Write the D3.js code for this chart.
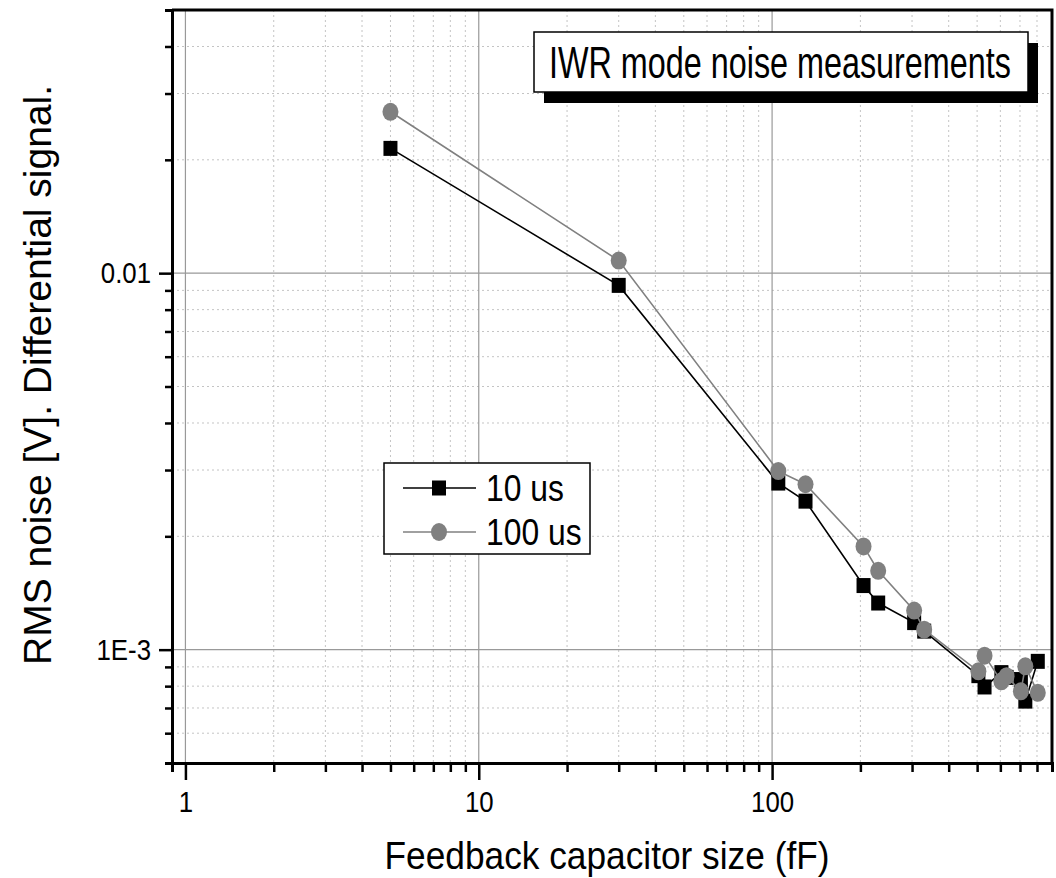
<!DOCTYPE html>
<html>
<head>
<meta charset="utf-8">
<script src="https://cdn.jsdelivr.net/npm/d3@7"></script>
<style>
  body { margin: 0; background: #fff; }
  text { font-family: "Liberation Sans", Arial, sans-serif; fill: #000; }
</style>
</head>
<body>
<div id="chart"></div>
<script>
// capacitor sizes (fF) and the two measured series (V rms)
const capSize = [5, 30, 105, 130, 205, 230, 305, 330, 505, 530, 605, 630, 705, 730, 805];
const noise10us = [0.02145, 0.00928, 0.00277, 0.00248, 0.00148, 0.00133, 0.00118, 0.00112,
                   0.000853, 0.000796, 0.000869, 0.000844, 0.000833, 0.000730, 0.000931];
const noise100us = [0.02683, 0.0108, 0.00298, 0.00275, 0.00188, 0.00162, 0.00127, 0.00113,
                    0.000876, 0.000964, 0.000824, 0.000850, 0.000775, 0.000903, 0.000768];
const seriesNames = ["10 us", "100 us"];

const xMajor = [1, 10, 100];
const xMajorLabels = ["1", "10", "100"];
const xMinor = [0.9, 2, 3, 4, 5, 6, 7, 8, 9, 20, 30, 40, 50, 60, 70, 80, 90, 200, 300, 400, 500, 600, 700, 800, 900];
const yMajor = [0.001, 0.01];
const yMajorLabels = ["1E-3", "0.01"];
const yMinor = [0.0005, 0.0006, 0.0007, 0.0008, 0.0009, 0.002, 0.003, 0.004, 0.005, 0.006, 0.007, 0.008, 0.009, 0.02, 0.03, 0.04, 0.05];

const titleText = "IWR mode noise measurements";
const xTitle = "Feedback capacitor size (fF)";
const yTitle = "RMS noise [V]. Differential signal.";

const W = 1056, H = 878;
const plotL = 172, plotR = 1052, plotT = 10, plotB = 763;
const SQUEEZE = 0.86; // the original glyphs are horizontally condensed

const svg = d3.select("#chart").append("svg")
    .attr("width", W)
    .attr("height", H);

const x = d3.scaleLog().domain([0.9, 900]).range([plotL, plotR]);
const y = d3.scaleLog().domain([0.0005, 0.05]).range([plotB, plotT]);

// grid: dotted minor, solid major
const grid = svg.append("g");
grid.selectAll(".gx-minor").data(xMinor).enter().append("line")
    .attr("x1", d => x(d)).attr("x2", d => x(d))
    .attr("y1", plotT).attr("y2", plotB)
    .attr("stroke", "#c4c4c4").attr("stroke-width", 1).attr("stroke-dasharray", "2,3");
grid.selectAll(".gy-minor").data(yMinor).enter().append("line")
    .attr("y1", d => y(d)).attr("y2", d => y(d))
    .attr("x1", plotL).attr("x2", plotR)
    .attr("stroke", "#c4c4c4").attr("stroke-width", 1).attr("stroke-dasharray", "2,3");
grid.selectAll(".gx-major").data(xMajor).enter().append("line")
    .attr("x1", d => x(d)).attr("x2", d => x(d))
    .attr("y1", plotT).attr("y2", plotB)
    .attr("stroke", "#999").attr("stroke-width", 1.2);
grid.selectAll(".gy-major").data(yMajor).enter().append("line")
    .attr("y1", d => y(d)).attr("y2", d => y(d))
    .attr("x1", plotL).attr("x2", plotR)
    .attr("stroke", "#999").attr("stroke-width", 1.2);

// frame top + right
svg.append("path")
    .attr("d", `M${plotL},${plotT}H${plotR}V${plotB}`)
    .attr("fill", "none").attr("stroke", "#000").attr("stroke-width", 3);

// axes (major with labels, minor without)
function styleAxis(g) {
    g.attr("font-size", null).attr("font-family", null);
    g.select(".domain").attr("stroke", "#000").attr("stroke-width", 3);
    g.selectAll(".tick line").attr("stroke", "#000").attr("stroke-width", 2.5);
    g.selectAll(".tick text").style("font-size", "30px").attr("fill", "#000");
}

svg.append("g").attr("transform", `translate(0,${plotB})`)
    .call(d3.axisBottom(x).tickValues(xMinor).tickSize(9).tickFormat(""))
    .call(styleAxis);
svg.append("g").attr("transform", `translate(0,${plotB})`)
    .call(d3.axisBottom(x).tickValues(xMajor).tickSize(17).tickPadding(11)
        .tickFormat((d, i) => xMajorLabels[i]))
    .call(styleAxis)
    .call(g => g.select(".domain").remove());

svg.append("g").attr("transform", `translate(${plotL},0)`)
    .call(d3.axisLeft(y).tickValues(yMinor).tickSize(7).tickFormat(""))
    .call(styleAxis);
svg.append("g").attr("transform", `translate(${plotL},0)`)
    .call(d3.axisLeft(y).tickValues(yMajor).tickSize(13).tickPadding(8)
        .tickFormat((d, i) => yMajorLabels[i]))
    .call(styleAxis)
    .call(g => g.select(".domain").remove());

// data
const pts = (vals) => capSize.map((c, i) => [c, vals[i]]);
const line = d3.line().x(d => x(d[0])).y(d => y(d[1]));

svg.append("path").datum(pts(noise10us))
    .attr("d", line).attr("fill", "none").attr("stroke", "#000").attr("stroke-width", 1.6);
svg.selectAll(".sq").data(pts(noise10us)).enter().append("rect")
    .attr("x", d => x(d[0]) - 7).attr("y", d => y(d[1]) - 7.5)
    .attr("width", 14).attr("height", 15).attr("fill", "#000");

svg.append("path").datum(pts(noise100us))
    .attr("d", line).attr("fill", "none").attr("stroke", "#808080").attr("stroke-width", 1.6);
svg.selectAll(".ci").data(pts(noise100us)).enter().append("ellipse")
    .attr("cx", d => x(d[0])).attr("cy", d => y(d[1]))
    .attr("rx", 8).attr("ry", 9).attr("fill", "#808080");

// legend
const lg = svg.append("g");
lg.append("rect").attr("x", 384).attr("y", 463).attr("width", 206).attr("height", 91)
    .attr("fill", "#fff").attr("stroke", "#000").attr("stroke-width", 1.5);
const legRows = [
    {name: seriesNames[0], color: "#000", cy: 488, shape: "sq"},
    {name: seriesNames[1], color: "#808080", cy: 532, shape: "ci"}
];
legRows.forEach(r => {
    lg.append("line").attr("x1", 403).attr("x2", 476).attr("y1", r.cy).attr("y2", r.cy)
        .attr("stroke", r.color).attr("stroke-width", 1.6);
    if (r.shape === "sq") {
        lg.append("rect").attr("x", 432).attr("y", r.cy - 7.5).attr("width", 14).attr("height", 15).attr("fill", r.color);
    } else {
        lg.append("ellipse").attr("cx", 439).attr("cy", r.cy).attr("rx", 8).attr("ry", 9).attr("fill", r.color);
    }
    lg.append("text").attr("x", 486).attr("y", r.cy + 13).attr("font-size", 37).text(r.name);
});

// condense the axis and legend labels like the source
svg.selectAll("text").each(function() {
    const w = this.getComputedTextLength();
    d3.select(this).attr("textLength", w * SQUEEZE).attr("lengthAdjust", "spacingAndGlyphs");
});

// title box with shadow; text squeezed with a transform so it stays inside the box
svg.append("rect").attr("x", 544).attr("y", 43).attr("width", 494).attr("height", 60).attr("fill", "#000");
svg.append("rect").attr("x", 534).attr("y", 32).attr("width", 494).attr("height", 60)
    .attr("fill", "#fff").attr("stroke", "#000").attr("stroke-width", 1.5);
const title = svg.append("text").attr("font-size", 44).text(titleText);
const tw = title.node().getComputedTextLength();
title.attr("transform", `translate(549,78) scale(${462 / tw},1)`);

// axis titles
const xt = svg.append("text").attr("font-size", 38).attr("text-anchor", "middle").text(xTitle);
xt.attr("transform", `translate(607,869) scale(${445 / xt.node().getComputedTextLength()},1)`);
svg.append("text").attr("transform", "translate(51,375) rotate(-90)")
    .attr("font-size", 38).attr("text-anchor", "middle")
    .attr("textLength", 580).attr("lengthAdjust", "spacingAndGlyphs")
    .text(yTitle);
</script>
</body>
</html>
